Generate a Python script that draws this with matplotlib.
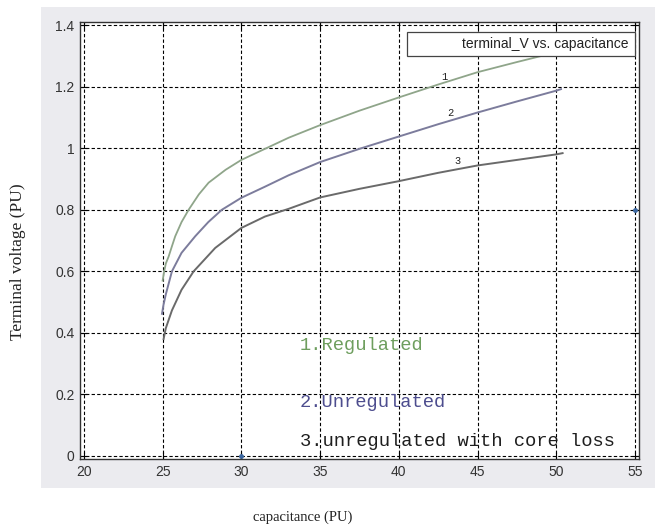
"""Terminal voltage vs. capacitance, three regulation cases."""

import matplotlib

matplotlib.use("Agg")
import matplotlib.pyplot as plt
from matplotlib.patches import Rectangle

# curve 1: regulated
cap_reg = [25.0, 25.1, 25.2, 25.38, 25.6, 25.8, 26.2, 26.65, 27.3, 27.92, 29.0,
           30.0, 31.5, 33.0, 35.0, 37.5, 40.0, 42.5, 45.0, 47.5, 49.15, 50.4]
volt_reg = [0.57, 0.60, 0.625, 0.648, 0.683, 0.714, 0.76, 0.80, 0.85, 0.888, 0.93,
            0.962, 0.998, 1.034, 1.075, 1.122, 1.165, 1.207, 1.247, 1.28, 1.301, 1.318]

# curve 2: unregulated
cap_unreg = [24.96, 25.05, 25.2, 25.59, 26.2, 27.07, 27.9, 28.76, 30.0, 31.5,
             33.0, 35.0, 37.5, 40.0, 42.5, 45.0, 47.5, 50.0, 50.3]
volt_unreg = [0.462, 0.49, 0.525, 0.60, 0.66, 0.714, 0.76, 0.80, 0.839, 0.875,
              0.912, 0.955, 0.998, 1.038, 1.078, 1.116, 1.152, 1.187, 1.192]

# curve 3: unregulated with core loss
cap_core = [25.06, 25.2, 25.59, 26.2, 26.97, 28.34, 30.0, 31.5, 33.0, 35.0, 37.5,
            40.0, 42.5, 45.0, 47.5, 50.0, 50.4]
volt_core = [0.38, 0.415, 0.473, 0.54, 0.60, 0.676, 0.741, 0.778, 0.803, 0.84,
             0.868, 0.893, 0.92, 0.944, 0.962, 0.98, 0.984]

# stray data points
dot_x = [30, 55]
dot_y = [0.0, 0.8]

x_ticks = [20, 25, 30, 35, 40, 45, 50, 55]
y_ticks = [0, 0.2, 0.4, 0.6, 0.8, 1.0, 1.2, 1.4]
y_tick_labels = ["0", "0.2", "0.4", "0.6", "0.8", "1", "1.2", "1.4"]

curve_tags = ["1", "2", "3"]
tag_x = [42.9, 43.25, 43.7]
tag_y = [1.23, 1.115, 0.959]

notes = ["1.Regulated", "2.Unregulated", "3.unregulated with core loss"]
note_y = [0.344, 0.159, 0.032]
note_colors = ["#6e9e5e", "#4d4d8e", "#1e1e1e"]

fig = plt.figure(figsize=(6.55, 5.27), dpi=100, facecolor="white")
fig.add_artist(Rectangle((0.0626, 0.074), 0.9374, 0.9127, transform=fig.transFigure,
                         facecolor="#ebebef", edgecolor="none", zorder=-10))

ax = fig.add_axes([0.1221, 0.1285, 0.8534, 0.829])
ax.set_zorder(1)
ax.set_facecolor("white")

ax.plot(cap_reg, volt_reg, color="#8fa58a", lw=1.3)
ax.plot(cap_unreg, volt_unreg, color="#7c7c9c", lw=1.4)
ax.plot(cap_core, volt_core, color="#6a6a6a", lw=1.4)
ax.plot(dot_x, dot_y, ls="none", marker="o", ms=2.5, color="#3a66a0", clip_on=False)

for tag, tx, ty in zip(curve_tags, tag_x, tag_y):
    ax.text(tx, ty, tag, fontsize=7.5, family="Liberation Mono", ha="center", va="center", color="#222222")

for note, ny, nc in zip(notes, note_y, note_colors):
    ax.text(33.72, ny, note, fontsize=13.5, family="Liberation Mono", ha="left", va="baseline", color=nc)

ax.add_patch(Rectangle((40.5, 1.299), 14.5, 0.079, facecolor="white", edgecolor="#444444", lw=0.9, zorder=5))
ax.text(54.6, 1.3385, "terminal_V vs. capacitance", fontsize=10, family="Liberation Sans",
        ha="right", va="center", color="#222222", zorder=6)

ax.set_xlim(19.75, 55.25)
ax.set_ylim(-0.0107, 1.4088)
ax.set_xticks(x_ticks)
ax.set_yticks(y_ticks)
ax.set_yticklabels(y_tick_labels)
ax.grid(True, color="black", lw=0.8, linestyle=(0, (3, 2)))
ax.tick_params(direction="in", length=5, width=0.8, top=True, right=True, pad=4,
               labelsize=10, labelcolor="#333333")
for lbl in ax.get_xticklabels() + ax.get_yticklabels():
    lbl.set_family("Liberation Sans")
for spine in ax.spines.values():
    spine.set_color("#333333")
    spine.set_linewidth(1.0)

fig.text(0.462, 0.019, "capacitance (PU)", fontsize=10.5, family="Liberation Serif", ha="center",
         va="center", color="#222222")
fig.text(0.028, 0.503, "Terminal voltage (PU)", fontsize=12.5, family="Liberation Serif",
         ha="center", va="center", rotation=90, color="#222222")

fig.savefig("out.png", dpi=100, facecolor="white")
